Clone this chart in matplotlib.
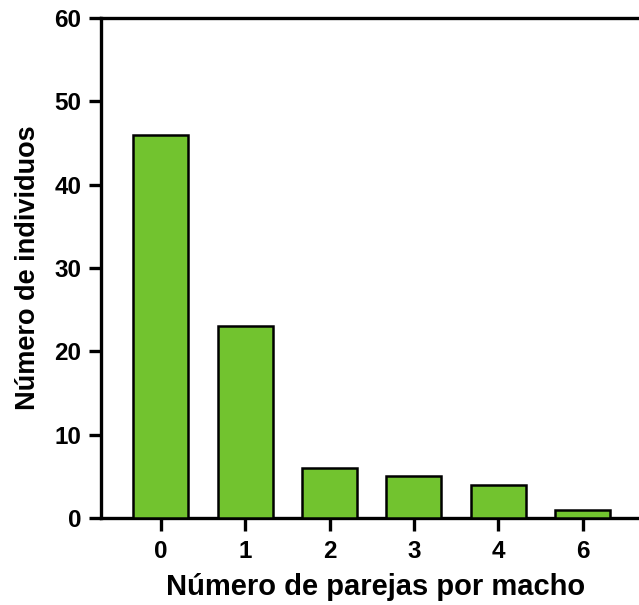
import matplotlib
matplotlib.use("Agg")
import matplotlib.pyplot as plt

categories = ["0", "1", "2", "3", "4", "6"]
counts = [46, 23, 6, 5, 4, 1]

plt.rcParams['font.family'] = ['Liberation Sans', 'DejaVu Sans']
plt.rcParams['font.weight'] = 'bold'

fig = plt.figure(figsize=(6.39, 6.05), dpi=100)
ax = fig.add_axes([101 / 639, 87 / 605, 549 / 639, 500 / 605])

x = range(len(categories))
ax.bar(x, counts, width=0.65, color="#72c32f", edgecolor="black", linewidth=1.8, zorder=3)

ax.set_xlim(-0.71, 5.8)
ax.set_ylim(0, 60)
ax.set_xticks(list(x))
ax.set_xticklabels(categories)
ax.set_yticks(range(0, 61, 10))

for side in ["left", "bottom", "top"]:
    ax.spines[side].set_linewidth(2.4)
ax.spines["right"].set_visible(False)

ax.tick_params(axis="both", width=2.4, length=9, labelsize=17.5, pad=5)
ax.tick_params(axis="x", pad=7)

ax.set_xlabel("Número de parejas por macho", fontsize=21, fontweight="bold", labelpad=7)
ax.set_ylabel("Número de individuos", fontsize=19.5, fontweight="bold", labelpad=10)

fig.savefig("out.png", dpi=100)
